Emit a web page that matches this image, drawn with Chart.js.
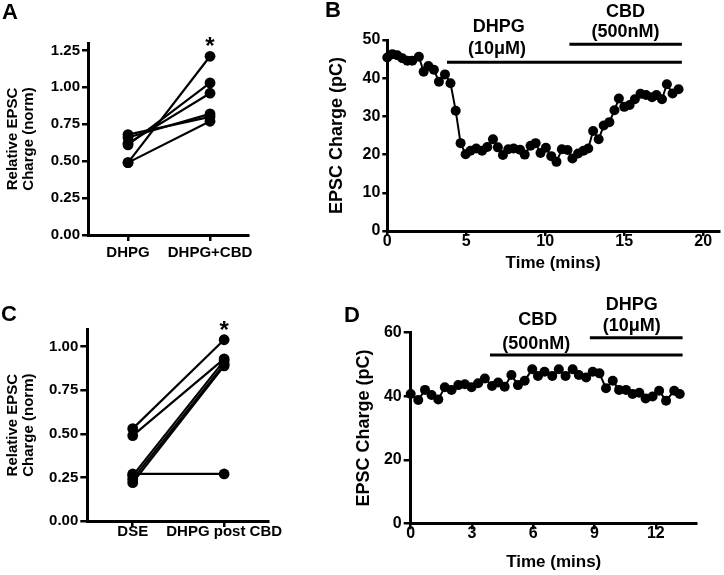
<!DOCTYPE html>
<html><head><meta charset="utf-8">
<script src="https://cdn.jsdelivr.net/npm/chart.js@4.4.0/dist/chart.umd.min.js"></script>
<style>
html,body{margin:0;padding:0;background:#fff;}
body{width:724px;height:575px;position:relative;overflow:hidden;font-family:"Liberation Sans",Arial,sans-serif;}
.box{position:absolute;}
.lbl{position:absolute;font-weight:bold;font-size:22px;line-height:1;color:#000;}
</style></head><body>
<div class="box" style="left:0;top:0;width:290px;height:290px"><canvas id="cA" width="290" height="290"></canvas></div>
<div class="box" style="left:320px;top:0;width:404px;height:290px"><canvas id="cB" width="404" height="290"></canvas></div>
<div class="box" style="left:0;top:290px;width:290px;height:285px"><canvas id="cC" width="290" height="285"></canvas></div>
<div class="box" style="left:320px;top:290px;width:404px;height:285px"><canvas id="cD" width="404" height="285"></canvas></div>
<div class="lbl" style="left:2px;top:1px">A</div>
<div class="lbl" style="left:325px;top:-1px">B</div>
<div class="lbl" style="left:1px;top:303px">C</div>
<div class="lbl" style="left:344px;top:304px">D</div>
<script>
// ---------- Panel A ----------
const catsA = ['DHPG', 'DHPG+CBD'];
const aDHPG    = [0.49, 0.49, 0.61, 0.62, 0.66, 0.68];
const aDHPGCBD = [1.21, 0.77, 1.03, 0.96, 0.82, 0.80];
const yTicksA  = [0, 0.25, 0.5, 0.75, 1.0, 1.25];

// ---------- Panel C ----------
const catsC = ['DSE', 'DHPG post CBD'];
const cDSE  = [0.53, 0.49, 0.27, 0.26, 0.24, 0.22];
const cPost = [1.04, 0.93, 0.27, 0.92, 0.90, 0.89];
const yTicksC = [0, 0.25, 0.5, 0.75, 1.0];

// ---------- Panel B ----------
const bTime = [0,0.32,0.63,0.95,1.27,1.58,2.0,2.3,2.6,2.95,3.27,3.65,4.0,4.33,4.64,4.96,5.27,5.63,6.0,6.33,
  6.69,7.0,7.32,7.66,8.0,8.4,8.7,9.07,9.39,9.7,10.04,10.38,10.71,11.05,11.41,11.72,12.08,12.42,12.72,13.03,
  13.38,13.7,14.06,14.38,14.66,15.0,15.34,15.67,16.03,16.38,16.76,17.04,17.39,17.7,18.06,18.44];
const bCharge = [45.4,46.3,46.0,45.2,44.6,44.6,45.6,41.7,43.2,42.2,39.1,41.0,38.7,31.5,23.0,20.1,21.0,21.6,21.0,22.0,
  24.0,21.9,19.9,21.4,21.6,21.3,20.0,22.3,23.0,20.4,21.8,19.6,18.1,21.4,21.2,19.0,20.3,21.0,21.6,26.2,
  24.0,27.6,28.5,31.6,34.7,32.5,33.0,34.5,35.9,35.6,35.0,35.6,34.5,38.4,36.0,37.1];
const bTicksX = [0, 5, 10, 15, 20];
const bTicksY = [0, 10, 20, 30, 40, 50];
const bDHPGBar = [3.78, 18.65], bDHPGLevel = 44.2;
const bCBDBar  = [11.53, 18.65], bCBDLevel = 48.9;

// ---------- Panel D ----------
const dTime = [0,0.37,0.7,1.02,1.35,1.67,2.0,2.33,2.65,2.98,3.3,3.63,3.98,4.28,4.6,4.93,5.25,5.58,5.95,6.23,
  6.55,6.93,7.25,7.58,7.93,8.23,8.59,8.91,9.24,9.56,9.89,10.2,10.54,10.86,11.19,11.5,11.84,12.16,12.5,12.9,13.17];
const dCharge = [40.7,38.8,42.0,40.4,39.0,42.8,42.0,43.5,43.8,42.8,44.1,45.6,43.2,44.3,43.0,46.7,43.5,44.9,48.5,46.4,
  47.7,46.4,48.5,46.4,48.5,46.7,45.9,47.7,47.2,42.5,44.9,42.0,42.0,40.7,41.1,39.3,39.9,41.7,38.6,41.7,40.7];
const dTicksX = [0, 3, 6, 9, 12];
const dTicksY = [0, 20, 40, 60];
const dCBDBar  = [3.88, 13.31], dCBDLevel = 53.0;
const dDHPGBar = [8.77, 13.31], dDHPGLevel = 58.4;

// ---------- helpers ----------
const FAM = '"Liberation Sans", Arial, Helvetica, sans-serif';
const textPlugin = {
  id: 'panelText',
  afterDatasetsDraw(chart, args, opts) {
    const ctx = chart.ctx, xs = chart.scales.x, ys = chart.scales.y;
    (opts.items || []).forEach(it => {
      ctx.save();
      ctx.font = 'bold ' + it.size + 'px ' + FAM;
      ctx.fillStyle = '#000';
      ctx.textAlign = 'center';
      ctx.textBaseline = it.baseline || 'middle';
      ctx.fillText(it.text, xs.getPixelForValue(it.x), ys.getPixelForValue(it.y) + (it.dy || 0));
      ctx.restore();
    });
  }
};
Chart.register(textPlugin);

function axis(o) {
  return {
    type: 'linear', min: o.min, max: o.max,
    afterBuildTicks: s => { s.ticks = o.ticks.map(v => ({value: v})); },
    afterFit: s => { if (o.w !== undefined) s.width = o.w; if (o.h !== undefined) s.height = o.h; },
    grid: {display: true, drawOnChartArea: false, drawTicks: true, tickLength: o.tl, color: '#000', lineWidth: 2.5},
    border: {display: true, color: '#000', width: 3},
    ticks: {color: '#000', padding: o.pad, autoSkip: false, maxRotation: 0,
      font: {family: FAM, size: o.fs, weight: 'bold'}, callback: o.cb || (v => v)},
    title: o.title ? {display: true, text: o.title, color: '#000',
      font: {family: FAM, size: o.tfs || 16, weight: 'bold', lineHeight: o.tlh || 1.2},
      padding: o.tpad} : {display: false}
  };
}

function baseOpts(pad, xs, ys, items) {
  return {
    responsive: false, animation: false, devicePixelRatio: 1,
    layout: {padding: pad},
    plugins: {legend: {display: false}, tooltip: {enabled: false}, panelText: {items: items}},
    scales: {x: xs, y: ys}
  };
}

function pairedChart(id, cats, pre, post, yTicks, g) {
  const ds = pre.map((v, i) => ({
    data: [{x: 1, y: v}, {x: 2, y: post[i]}],
    showLine: true, borderColor: '#000', backgroundColor: '#000', borderWidth: 2.2,
    pointRadius: 5.4, pointHoverRadius: 5.4, pointBorderWidth: 0, clip: false
  }));
  const top = Math.max(...post);
  new Chart(document.getElementById(id), {
    type: 'scatter',
    data: {datasets: ds},
    options: baseOpts(g.pad,
      axis({min: g.xmin, max: g.xmax, ticks: [1, 2], h: g.xh, tl: 6, pad: g.xpad, fs: 15, cb: v => cats[v - 1]}),
      axis({min: 0, max: g.ymax, ticks: yTicks, w: g.yw, tl: g.ytl, pad: 2, fs: 15,
        cb: v => v.toFixed(2), title: ['Relative EPSC', 'Charge (norm)'], tfs: 15, tlh: 1.07,
        tpad: {top: g.tpad, bottom: 0}}),
      [{text: '*', x: 2, y: top, dy: -2, size: 24, baseline: 'alphabetic'}])
  });
}

function timeChart(id, t, v, bars, xt, yt, g, items) {
  const ds = [{
    data: t.map((x, i) => ({x: x, y: v[i]})),
    showLine: true, borderColor: '#000', backgroundColor: '#000', borderWidth: 2,
    pointRadius: 5, pointHoverRadius: 5, pointBorderWidth: 0, clip: false
  }];
  bars.forEach(b => ds.push({
    data: [{x: b.range[0], y: b.level}, {x: b.range[1], y: b.level}],
    showLine: true, borderColor: '#000', borderWidth: 3, pointRadius: 0, clip: false
  }));
  new Chart(document.getElementById(id), {
    type: 'scatter',
    data: {datasets: ds},
    options: baseOpts(g.pad,
      axis({min: 0, max: g.xmax, ticks: xt, h: g.xh, tl: g.xtl, pad: g.xpad, fs: 16,
        title: 'Time (mins)', tfs: 17, tpad: {top: 0, bottom: g.xtpad}}),
      axis({min: 0, max: g.ymax, ticks: yt, w: g.yw, tl: g.ytl, pad: 2, fs: 16,
        title: 'EPSC Charge (pC)', tfs: 18, tpad: {top: g.ytpad, bottom: 0}}),
      items)
  });
}

pairedChart('cA', catsA, aDHPG, aDHPGCBD, yTicksA,
  {pad: {left: 0, top: 43, right: 42, bottom: 0}, xmin: 0.512, xmax: 2.463, ymax: 1.3,
   yw: 88, xh: 55, ytl: 6, xpad: 2.5, tpad: 5});
pairedChart('cC', catsC, cDSE, cPost, yTicksC,
  {pad: {left: 0, top: 39.3, right: 22, bottom: 0}, xmin: 0.503, xmax: 2.48, ymax: 1.1,
   yw: 87.3, xh: 54, ytl: 7, xpad: -4, tpad: 4.5});

timeChart('cB', bTime, bCharge,
  [{range: bDHPGBar, level: bDHPGLevel}, {range: bCBDBar, level: bCBDLevel}],
  bTicksX, bTicksY,
  {pad: {left: 0, top: 40, right: 4, bottom: 0}, xmax: 21, ymax: 50, yw: 67.3, xh: 59,
   xtl: 5, xpad: -3.6, ytl: 5, xtpad: 16.8, ytpad: 6.2},
  [{text: 'DHPG', x: 7.05, y: 53.4, size: 18}, {text: '(10\u03bcM)', x: 6.95, y: 47.6, size: 18},
   {text: 'CBD', x: 15.08, y: 57.3, size: 18}, {text: '(500nM)', x: 15.08, y: 52.1, size: 18}]);

timeChart('cD', dTime, dCharge,
  [{range: dCBDBar, level: dCBDLevel}, {range: dDHPGBar, level: dDHPGLevel}],
  dTicksX, dTicksY,
  {pad: {left: 0, top: 42.7, right: 27.3, bottom: 0}, xmax: 14, ymax: 60, yw: 90.7, xh: 51.7,
   xtl: 6, xpad: -4.9, ytl: 7, xtpad: 2, ytpad: 33.2},
  [{text: 'CBD', x: 6.22, y: 64.0, size: 18}, {text: '(500nM)', x: 6.15, y: 56.3, size: 18},
   {text: 'DHPG', x: 10.82, y: 68.7, size: 18}, {text: '(10\u03bcM)', x: 10.82, y: 62.0, size: 18}]);
</script>
</body></html>
